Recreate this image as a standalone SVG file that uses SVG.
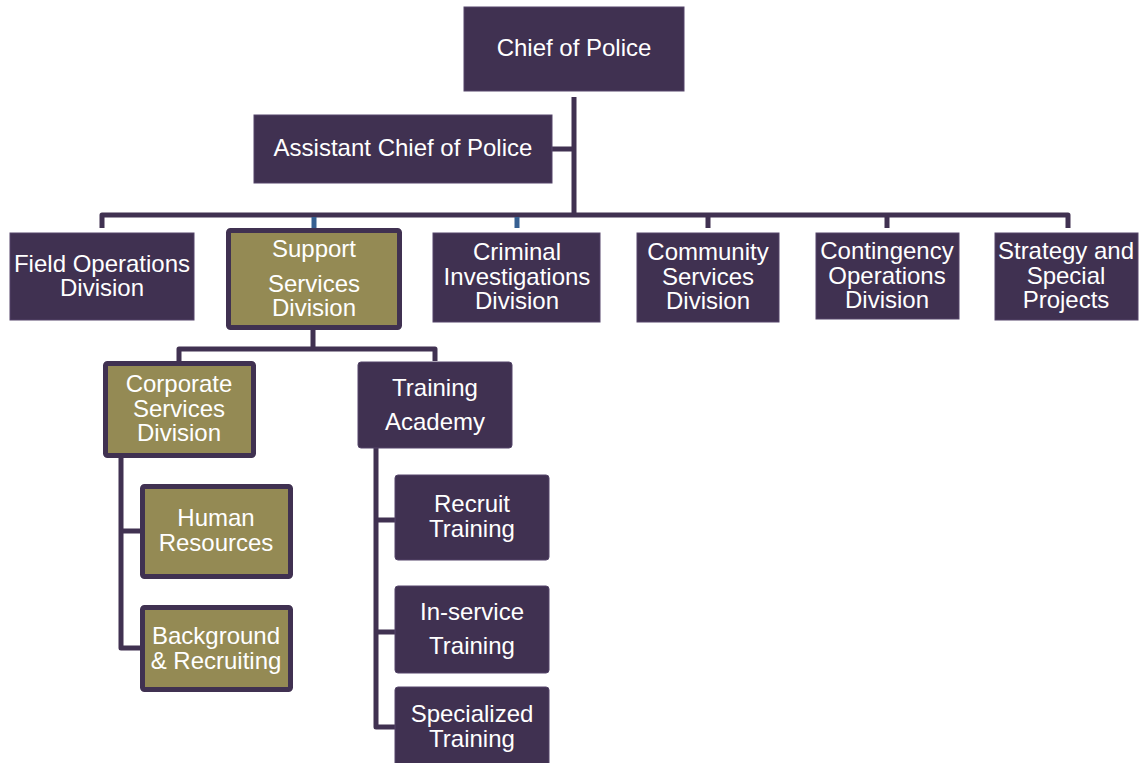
<svg xmlns="http://www.w3.org/2000/svg" width="1139" height="763" viewBox="0 0 1139 763">
<style>
.p{fill:#403151;stroke:#54456a;stroke-width:1}
.o{fill:#948a54;stroke:#403151;stroke-width:5}
.c{fill:none;stroke:#403151;stroke-width:5;stroke-linejoin:round}
.b{fill:none;stroke:#376092;stroke-width:5}
text{font-family:"Liberation Sans",Arial,sans-serif;font-size:24px;fill:#ffffff;text-anchor:middle}
</style>
<rect width="1139" height="763" fill="#ffffff"/>
<g id="connectors">
<path class="c" d="M574 97V215M552 149H574M102 228V215H1068V228M708 215V228M887 215V228"/>
<path class="b" d="M314 217V228M517 217V228"/>
<path class="c" d="M313 329V349M179 361V349H435V361"/>
<path class="c" d="M121 458V648H142M121 531H142"/>
<path class="c" d="M376 448V727H396M376 520H396M376 632H396"/>
</g>
<g id="chief"><rect class="p" x="464" y="7" width="220" height="84"/><text x="574" y="56">Chief of Police</text></g>
<g id="assistant"><rect class="p" x="254" y="115" width="298" height="68"/><text x="403" y="156">Assistant Chief of Police</text></g>
<g id="field"><rect class="p" x="10" y="233" width="184" height="87"/><text x="102" y="272">Field Operations</text><text x="102" y="296">Division</text></g>
<g id="support"><rect class="o" x="228.5" y="230.5" width="171" height="97" rx="2"/><text x="314" y="257">Support</text><text x="314" y="292">Services</text><text x="314" y="316">Division</text></g>
<g id="criminal"><rect class="p" x="433" y="233" width="167" height="89"/><text x="517" y="260">Criminal</text><text x="517" y="285">Investigations</text><text x="517" y="309">Division</text></g>
<g id="community"><rect class="p" x="637" y="233" width="142" height="89"/><text x="708" y="260">Community</text><text x="708" y="285">Services</text><text x="708" y="309">Division</text></g>
<g id="contingency"><rect class="p" x="816" y="233" width="143" height="86"/><text x="887" y="259">Contingency</text><text x="887" y="284">Operations</text><text x="887" y="308">Division</text></g>
<g id="strategy"><rect class="p" x="995" y="233" width="143" height="87"/><text x="1066" y="259">Strategy and</text><text x="1066" y="284">Special</text><text x="1066" y="308">Projects</text></g>
<g id="corporate"><rect class="o" x="105.5" y="363.5" width="148" height="92" rx="2"/><text x="179" y="392">Corporate</text><text x="179" y="417">Services</text><text x="179" y="441">Division</text></g>
<g id="training"><rect class="p" x="358" y="362" width="154" height="86" rx="3"/><text x="435" y="396">Training</text><text x="435" y="430">Academy</text></g>
<g id="human"><rect class="o" x="142.5" y="486.5" width="148" height="90" rx="2"/><text x="216" y="526">Human</text><text x="216" y="551">Resources</text></g>
<g id="background"><rect class="o" x="142.5" y="607.5" width="148" height="82" rx="2"/><text x="216" y="644">Background</text><text x="216" y="669">&amp; Recruiting</text></g>
<g id="recruit"><rect class="p" x="395" y="475" width="154" height="85" rx="3"/><text x="472" y="512">Recruit</text><text x="472" y="537">Training</text></g>
<g id="inservice"><rect class="p" x="395" y="586" width="154" height="87" rx="3"/><text x="472" y="620">In-service</text><text x="472" y="654">Training</text></g>
<g id="specialized"><rect class="p" x="395" y="687" width="154" height="80" rx="3"/><text x="472" y="722">Specialized</text><text x="472" y="747">Training</text></g>
</svg>
